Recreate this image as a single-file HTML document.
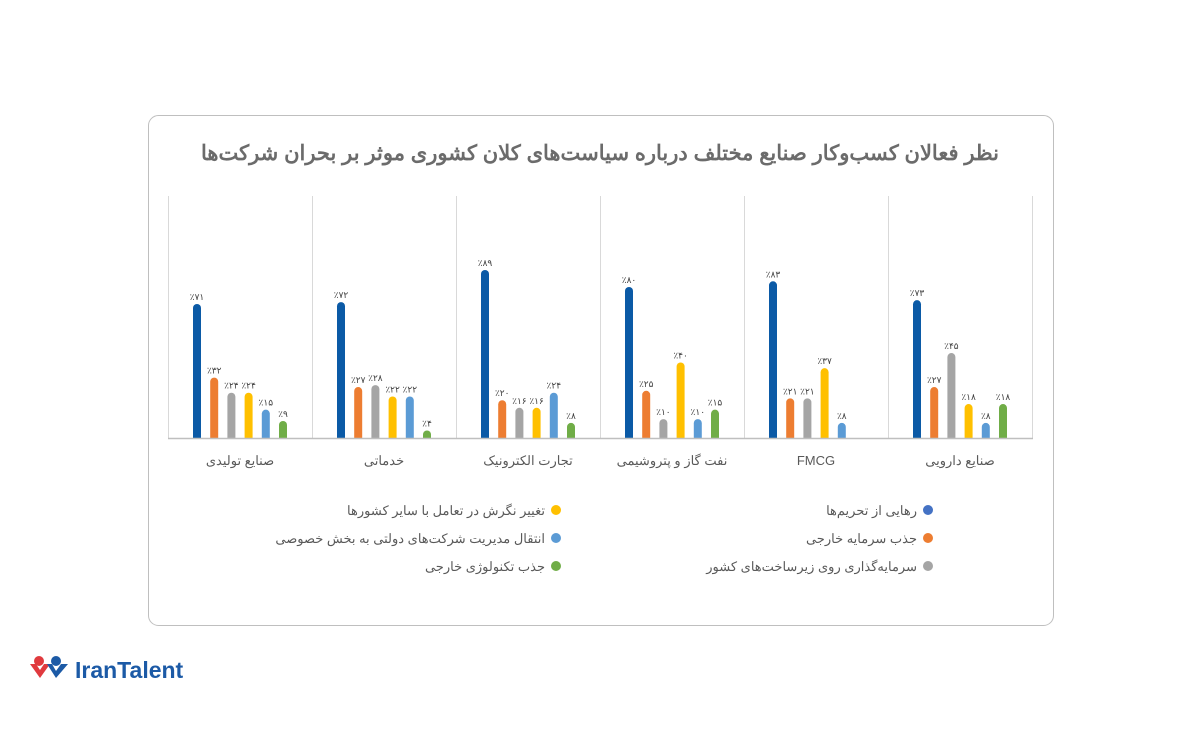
<!DOCTYPE html>
<html><head><meta charset="utf-8"><style>
html,body{margin:0;padding:0;background:#fff;width:1200px;height:745px;overflow:hidden}
text{font-family:"Liberation Sans","Noto Sans CJK SC",sans-serif}
</style></head><body>
<svg width="1200" height="745" viewBox="0 0 1200 745" xmlns="http://www.w3.org/2000/svg">
<rect x="148.5" y="115.5" width="905" height="510" rx="10" fill="#fff" stroke="#bfbfbf" stroke-width="1"/>
<text x="600" y="160" text-anchor="middle" font-size="21" font-weight="bold" fill="#6b6b6b" direction="rtl">نظر فعالان کسب‌وکار صنایع مختلف درباره سیاست‌های کلان کشوری موثر بر بحران شرکت‌ها</text>
<g stroke="#d9d9d9" stroke-width="1">
<line x1="168.5" y1="196" x2="168.5" y2="438"/><line x1="312.5" y1="196" x2="312.5" y2="438"/>
<line x1="456.5" y1="196" x2="456.5" y2="438"/><line x1="600.5" y1="196" x2="600.5" y2="438"/>
<line x1="744.5" y1="196" x2="744.5" y2="438"/><line x1="888.5" y1="196" x2="888.5" y2="438"/>
<line x1="1032.5" y1="196" x2="1032.5" y2="438"/>
</g>
<g id="bars"></g>
<line x1="168" y1="438.5" x2="1033" y2="438.5" stroke="#bfbfbf" stroke-width="1.5"/>
<g font-size="13" fill="#595959" text-anchor="middle" direction="rtl">
<text x="240" y="465">صنایع تولیدی</text>
<text x="384" y="465">خدماتی</text>
<text x="528" y="465">تجارت الکترونیک</text>
<text x="672" y="465">نفت گاز و پتروشیمی</text>
<text x="816" y="465">FMCG</text>
<text x="960" y="465">صنایع دارویی</text>
</g>
<circle cx="928" cy="510" r="5" fill="#4472c4"/>
<circle cx="928" cy="538" r="5" fill="#ed7d31"/>
<circle cx="928" cy="566" r="5" fill="#a5a5a5"/>
<circle cx="556" cy="510" r="5" fill="#ffc000"/>
<circle cx="556" cy="538" r="5" fill="#5b9bd5"/>
<circle cx="556" cy="566" r="5" fill="#70ad47"/>
<g font-size="13" fill="#595959" text-anchor="start" direction="rtl">
<text x="917" y="515">رهایی از تحریم‌ها</text>
<text x="917" y="543">جذب سرمایه خارجی</text>
<text x="917" y="571">سرمایه‌گذاری روی زیرساخت‌های کشور</text>
<text x="545" y="515">تغییر نگرش در تعامل با سایر کشورها</text>
<text x="545" y="543">انتقال مدیریت شرکت‌های دولتی به بخش خصوصی</text>
<text x="545" y="571">جذب تکنولوژی خارجی</text>
</g>
<g transform="translate(30,656)">
<path d="M0 8 L10 22 L20 8 L14 8 L10 14 L6 8Z" fill="#e03a3e"/>
<circle cx="9" cy="5" r="5" fill="#e03a3e"/>
<circle cx="26" cy="5" r="5" fill="#1c5aa6"/>
<path d="M17 8 L26 22 L38 8 L31 8 L26 15 L22 8Z" fill="#1c5aa6"/>
</g>
<text x="75" y="678" font-size="23" font-weight="bold" fill="#1c5aa6">IranTalent</text>
</svg>
<script>
var data=[[71,32,24,24,15,9],[72,27,28,22,22,4],[89,20,16,16,24,8],[80,25,10,40,10,15],[83,21,21,37,8,null],[73,27,45,18,8,18]];
var cols=["#0b5aa6","#ed7d31","#a5a5a5","#ffc000","#5b9bd5","#70ad47"];
var fa="۰۱۲۳۴۵۶۷۸۹";
var g=document.getElementById("bars"),h="";
data.forEach(function(d,gi){d.forEach(function(v,i){if(v==null)return;
var x=168+gi*144+29+i*17.2,top=438-v*1.888,l=x-4,r=x+4;
h+='<path d="M'+l+' 438 L'+l+' '+(top+4)+' A4 4 0 0 1 '+r+' '+(top+4)+' L'+r+' 438Z" fill="'+cols[i]+'"/>';
var s=String(v).replace(/\d/g,function(c){return fa[c]});
h+='<text x="'+x+'" y="'+(top-4)+'" font-size="9" fill="#404040" text-anchor="middle">٪'+s+'</text>';});});
g.innerHTML=h;
</script>
</body></html>
